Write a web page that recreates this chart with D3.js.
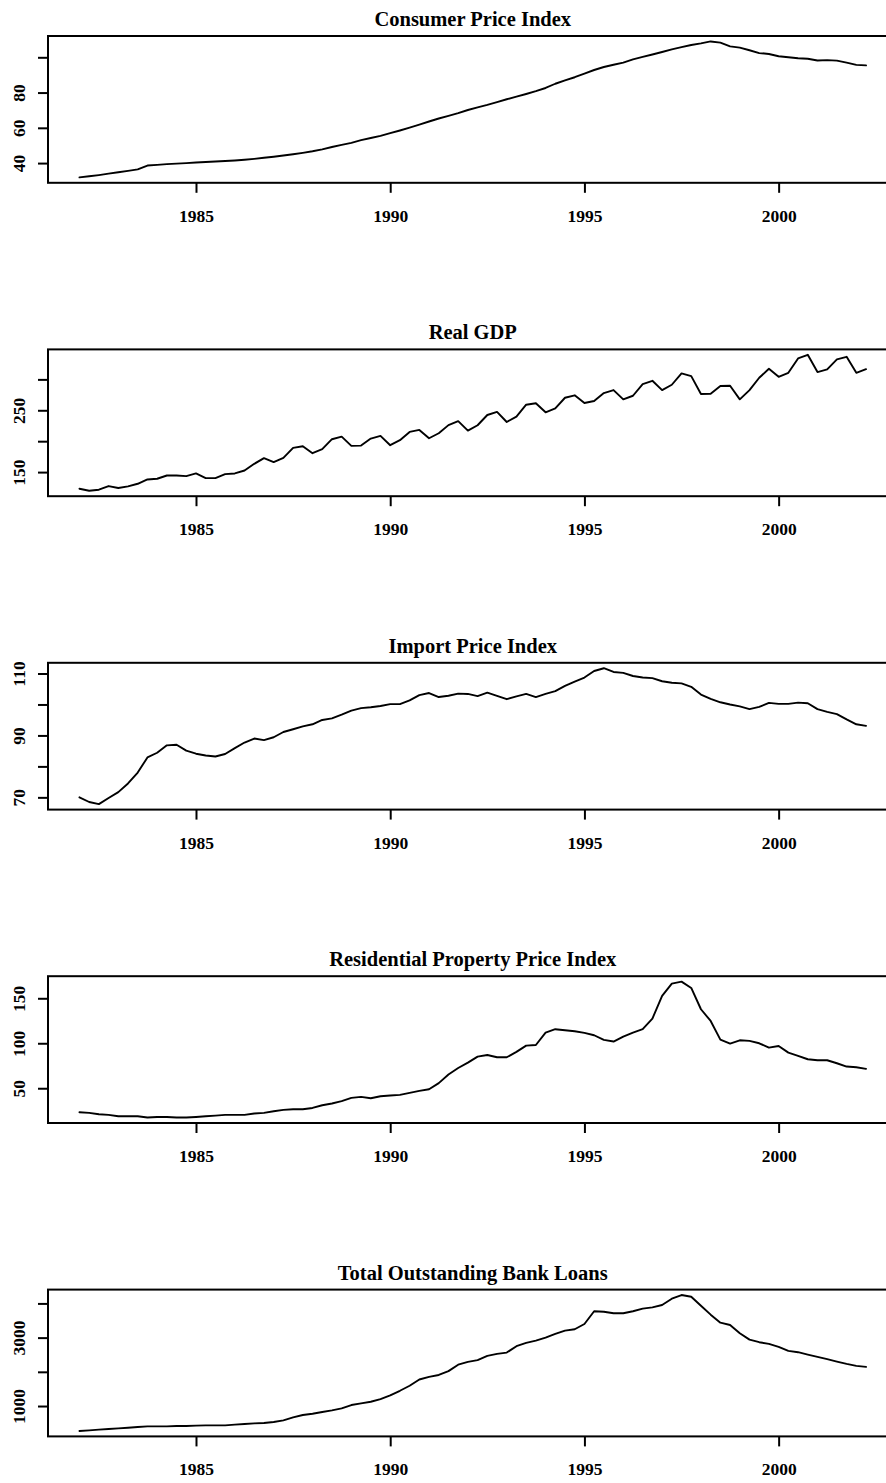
<!DOCTYPE html>
<html>
<head>
<meta charset="utf-8">
<script src="https://cdn.jsdelivr.net/npm/d3@7"></script>
<style>
  html, body { margin: 0; padding: 0; background: #fff; }
  svg { display: block; }
  text { font-family: "Liberation Serif", "Times New Roman", "DejaVu Serif", serif; font-weight: bold; fill: #000; }
</style>
</head>
<body>
<svg id="chart" width="886" height="1483"></svg>
<script>
// Quarterly series, 1982 Q1 – 2002 Q2
const startYear = 1982;
const frequency = 4;

const titles = [
  "Consumer Price Index",
  "Real GDP",
  "Import Price Index",
  "Residential Property Price Index",
  "Total Outstanding Bank Loans"
];

const cpi = [
  31.9, 32.5, 33.2, 34.0,   34.8, 35.6, 36.4, 38.6,   39.0, 39.4, 39.7, 40.0,
  40.3, 40.6, 40.9, 41.2,   41.5, 41.9, 42.4, 43.0,   43.6, 44.3, 45.0, 45.8,
  46.7, 47.8, 49.1, 50.3,   51.5, 53.0, 54.2, 55.4,   57.0, 58.5, 60.1, 61.8,
  63.6, 65.3, 66.8, 68.3,   70.1, 71.6, 73.0, 74.6,   76.2, 77.7, 79.2, 80.8,
  82.6, 85.0, 86.9, 88.7,   90.8, 92.8, 94.5, 95.8,   97.0, 98.8, 100.2, 101.6,
  103.0, 104.5, 105.8, 107.0, 107.9, 109.0, 108.3, 106.2, 105.5, 104.0, 102.4, 101.9,
  100.6, 100.0, 99.5, 99.2,  98.2, 98.4, 98.1, 97.0,   95.7, 95.4
];

const realGdp = [
  123.1, 119.8, 121.5, 127.4, 124.2, 126.8, 131.1, 138.1, 139.2, 144.5, 144.5, 143.5,
  147.8, 140.3, 140.3, 146.8, 147.8, 152.6, 163.4, 172.6, 166.1, 173.1, 189.2, 191.9,
  180.6, 187.1, 203.2, 207.4, 192.4, 192.9, 204.2, 208.5, 193.5, 201.6, 215.0, 218.2,
  204.8, 212.8, 226.0, 232.5, 217.1, 225.8, 242.4, 247.3, 231.1, 239.7, 259.0, 261.3,
  246.8, 253.2, 270.3, 274.2, 261.8, 265.0, 277.9, 282.7, 267.7, 273.5, 292.4, 297.7,
  282.7, 291.3, 309.7, 305.3, 276.3, 276.8, 289.2, 289.7, 267.7, 282.7, 302.6, 317.1,
  304.2, 310.6, 333.9, 339.7, 311.8, 316.1, 332.3, 336.5, 310.6, 316.6
];

const importPrice = [
  70.0, 68.5, 67.8, 69.8,   71.7, 74.5, 78.0, 82.9,   84.4, 86.8, 87.0, 85.1,
  84.1, 83.5, 83.2, 84.0,   85.9, 87.7, 89.0, 88.5,   89.4, 91.1, 92.0, 92.9,
  93.6, 95.0, 95.5, 96.7,   98.0, 98.8, 99.1, 99.5,   100.1, 100.1, 101.3, 103.0,
  103.7, 102.4, 102.8, 103.5, 103.4, 102.7, 103.8, 102.8, 101.7, 102.6, 103.4, 102.4,
  103.4, 104.3, 106.0, 107.4, 108.7, 110.8, 111.7, 110.5, 110.2, 109.2, 108.7, 108.5,
  107.5, 107.0, 106.8, 105.7, 103.2, 101.8, 100.7, 100.0, 99.4, 98.5, 99.2, 100.5,
  100.2, 100.2, 100.6, 100.4, 98.5, 97.6, 96.9, 95.2,   93.6, 93.1
];

const propertyPrice = [
  23.3, 22.6, 21.1, 20.4,   18.9, 18.9, 18.9, 17.4,   18.1, 18.1, 17.4, 17.4,
  18.1, 18.9, 19.6, 20.4,   20.4, 20.4, 21.9, 22.6,   24.4, 25.9, 26.7, 26.7,
  28.1, 31.1, 33.0, 35.6,   39.3, 40.4, 38.9, 41.1,   41.9, 42.6, 44.8, 47.0,
  48.9, 55.7, 65.2, 72.5,   78.5, 85.2, 87.0, 84.4,   84.4, 90.4, 97.4, 98.1,
  111.9, 115.6, 114.4, 113.3, 111.5, 108.9, 103.7, 101.9, 107.4, 111.9, 115.6, 127.4,
  152.6, 166.3, 168.5, 161.5, 137.8, 124.8, 104.1, 99.6, 103.3, 102.6, 100.0, 95.2,
  97.0, 89.6, 85.9, 82.2,   81.1, 81.1, 77.8, 74.1,   73.3, 71.5
];

const bankLoans = [
  271, 289, 309, 329,   347, 367, 388, 405,   405, 405, 417, 417,
  426, 434, 434, 434,   455, 475, 493, 504,   534, 580, 668, 738,
  776, 825, 872, 930,   1029, 1076, 1125, 1204, 1309, 1446, 1592, 1776,
  1854, 1908, 2020, 2208, 2292, 2341, 2466, 2525, 2563, 2749, 2845, 2913,
  3000, 3108, 3205, 3245, 3399, 3770, 3758, 3711, 3711, 3770, 3846, 3886,
  3953, 4137, 4245, 4195, 3933, 3671, 3437, 3370, 3128, 2942, 2866, 2816,
  2729, 2612, 2574, 2504, 2437, 2370, 2300, 2233, 2175, 2146
];

const series = [cpi, realGdp, importPrice, propertyPrice, bankLoans];

// y-axis ticks per panel; an empty label means the tick is drawn without text
const yTicks = [
  [40, 60, 80, 100],
  [150, 200, 250, 300],
  [70, 80, 90, 100, 110],
  [50, 100, 150],
  [1000, 2000, 3000, 4000]
];
const yTickLabels = [
  ["40", "60", "80", ""],
  ["150", "", "250", ""],
  ["70", "", "90", "", "110"],
  ["50", "100", "150"],
  ["1000", "", "3000", ""]
];

const xTicks = [1985, 1990, 1995, 2000];
const xTickLabels = ["1985", "1990", "1995", "2000"];

// ---- layout ----
const svg = d3.select("#chart");
const plotLeft = 48;
const plotRight = 897.5;      // right edge of the plot box runs past the page edge
const firstTop = 36;
const panelStep = 313.4;
const plotHeight = 146.8;
const tickLen = 10;

// R-style axis range: data range extended by 4% on both sides
function padded(ext) {
  const r = ext[1] - ext[0];
  return [ext[0] - 0.04 * r, ext[1] + 0.04 * r];
}

series.forEach((values, k) => {
  const top = firstTop + k * panelStep;
  const bottom = top + plotHeight;
  const data = values.map((v, i) => ({ t: startYear + i / frequency, v }));

  const x = d3.scaleLinear()
    .domain(padded(d3.extent(data, d => d.t)))
    .range([plotLeft, plotRight]);
  const y = d3.scaleLinear()
    .domain(padded(d3.extent(data, d => d.v)))
    .range([bottom, top]);

  const g = svg.append("g");

  // title
  g.append("text")
    .attr("x", (plotLeft + plotRight) / 2)
    .attr("y", top - 10)
    .attr("text-anchor", "middle")
    .style("font-size", "20.5px")
    .text(titles[k]);

  // series line
  g.append("path")
    .datum(data)
    .attr("fill", "none")
    .attr("stroke", "#000")
    .attr("stroke-width", 1.9)
    .attr("stroke-linejoin", "round")
    .attr("stroke-linecap", "round")
    .attr("d", d3.line().x(d => x(d.t)).y(d => y(d.v)));

  // plot box
  g.append("rect")
    .attr("x", plotLeft)
    .attr("y", top)
    .attr("width", plotRight - plotLeft)
    .attr("height", plotHeight)
    .attr("fill", "none")
    .attr("stroke", "#000")
    .attr("stroke-width", 2);

  // x axis
  const xAxis = d3.axisBottom(x)
    .tickValues(xTicks)
    .tickFormat((d, i) => xTickLabels[i])
    .tickSize(tickLen)
    .tickSizeOuter(0);
  const gx = g.append("g")
    .attr("transform", `translate(0,${bottom})`)
    .call(xAxis);
  gx.select(".domain").remove();
  gx.selectAll(".tick line").attr("stroke", "#000").attr("stroke-width", 2);
  gx.selectAll(".tick text")
    .attr("y", 39)
    .attr("dy", 0)
    .attr("fill", "#000")
    .style("font-size", "17.5px")
    .style("font-family", "'Liberation Serif', 'Times New Roman', serif")
    .style("font-weight", "bold");

  // y axis with labels rotated parallel to the axis
  const labels = yTickLabels[k];
  const yAxis = d3.axisLeft(y)
    .tickValues(yTicks[k])
    .tickFormat((d, i) => labels[i])
    .tickSize(tickLen)
    .tickSizeOuter(0);
  const gy = g.append("g")
    .attr("transform", `translate(${plotLeft},0)`)
    .call(yAxis);
  gy.select(".domain").remove();
  gy.selectAll(".tick line").attr("stroke", "#000").attr("stroke-width", 2);
  gy.selectAll(".tick text")
    .attr("transform", "rotate(-90)")
    .attr("x", 0)
    .attr("y", -23)
    .attr("dy", 0)
    .attr("text-anchor", "middle")
    .attr("fill", "#000")
    .style("font-size", "17.5px")
    .style("font-family", "'Liberation Serif', 'Times New Roman', serif")
    .style("font-weight", "bold");
});
</script>
</body>
</html>
